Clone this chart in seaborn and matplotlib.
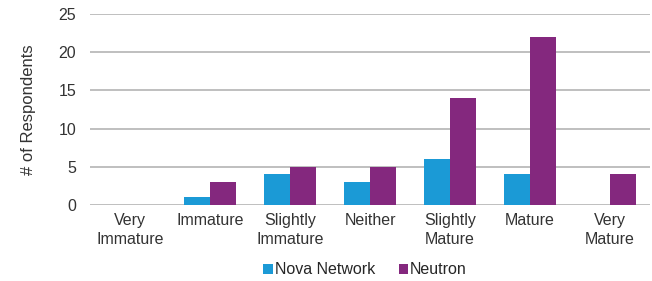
import matplotlib
matplotlib.use("Agg")
import matplotlib.pyplot as plt
import seaborn as sns
import pandas as pd

categories = ["Very\nImmature", "Immature", "Slightly\nImmature", "Neither",
              "Slightly\nMature", "Mature", "Very\nMature"]
nova = [0, 1, 4, 3, 6, 4, 0]
neutron = [0, 3, 5, 5, 14, 22, 4]
series_names = ["Nova Network", "Neutron"]
colors = ["#1B9AD6", "#84287E"]

df = pd.DataFrame({
    "category": categories * 2,
    "value": nova + neutron,
    "series": [series_names[0]] * len(categories) + [series_names[1]] * len(categories),
})

sns.set_theme(style="white")
plt.rcParams["font.family"] = ["Liberation Sans", "DejaVu Sans"]

fig = plt.figure(figsize=(6.52, 2.81), dpi=100)
ax = fig.add_axes([90/652, 1 - 205/281, 560/652, 191/281])

sns.barplot(data=df, x="category", y="value", hue="series", palette=colors,
            width=0.66, gap=0, ax=ax, order=categories, hue_order=series_names,
            saturation=1, legend=True, edgecolor="none", linewidth=0)

ax.set_xlim(-0.5, 6.5)
ax.set_ylim(0, 25)
ax.set_yticks([0, 5, 10, 15, 20, 25])
ax.yaxis.grid(True, color="#BFBFBF", linewidth=1.4)
ax.set_axisbelow(True)
for s in ax.spines.values():
    s.set_visible(False)
ax.tick_params(axis="both", length=0, labelsize=11.5, colors="#333333")
ax.tick_params(axis="y", pad=10)
ax.tick_params(axis="x", pad=6)
for t in ax.get_xticklabels():
    t.set_linespacing(1.3)
ax.set_xlabel("")
ax.set_ylabel("# of Respondents", fontsize=12, color="#333333", labelpad=16)

handles, labels = ax.get_legend_handles_labels()
ax.legend(handles, labels, loc="center", bbox_to_anchor=(365/652, 1 - 270/281),
          bbox_transform=fig.transFigure, ncol=2, frameon=False, fontsize=11.5,
          handlelength=0.6, handleheight=0.6, handletextpad=0.1, columnspacing=1.5)

fig.savefig("out.png", dpi=100)
